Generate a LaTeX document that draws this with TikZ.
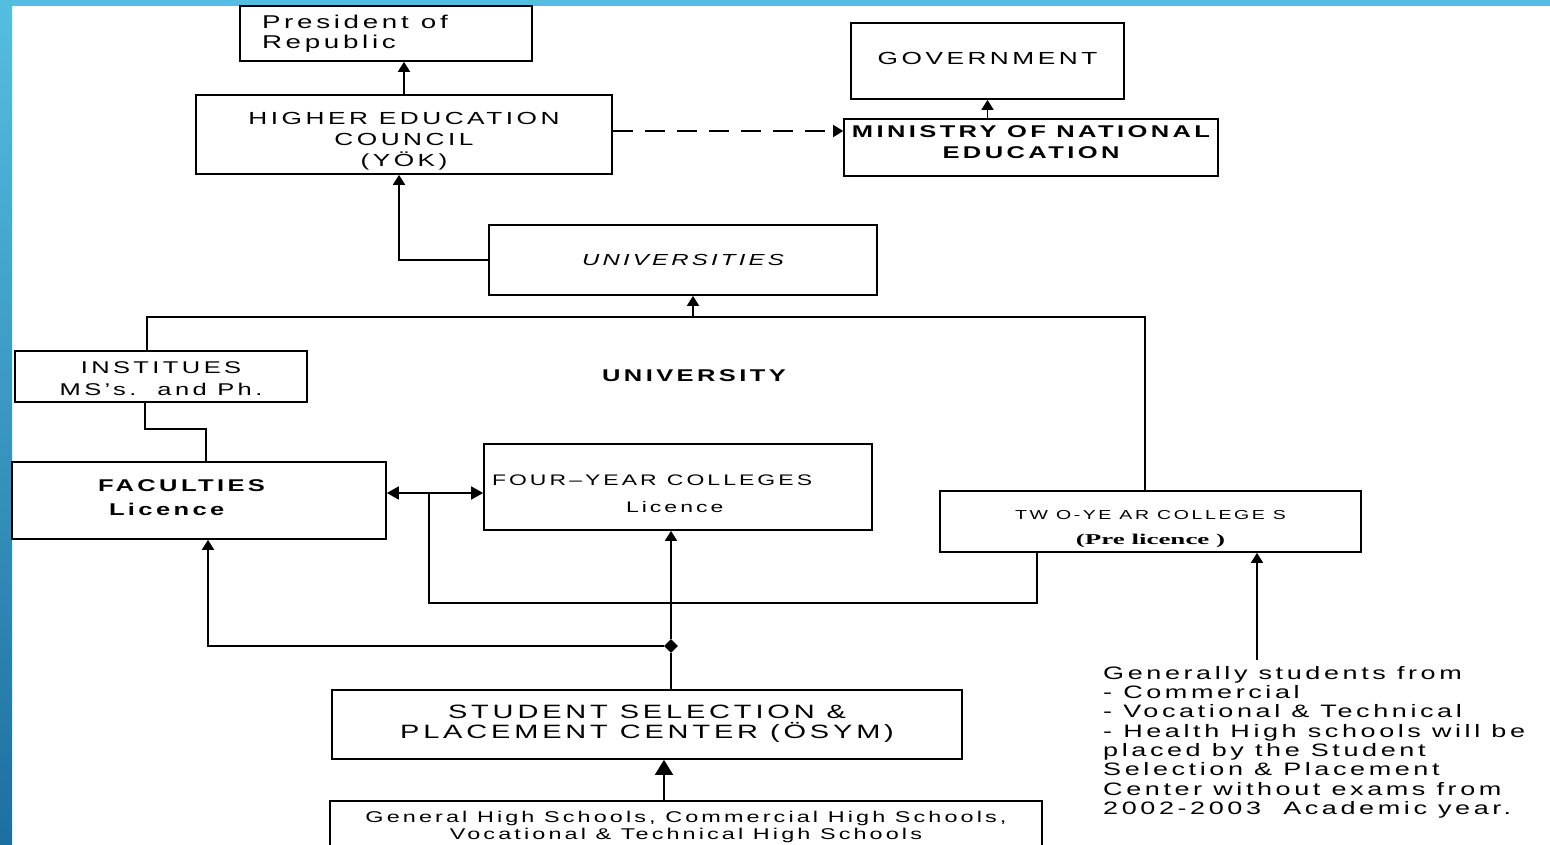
\documentclass[tikz,border=0pt]{standalone}
\usepackage{fontspec}
\usetikzlibrary{arrows.meta,shapes.geometric}
\newfontfamily\diagfont[FakeStretch=1.5,LetterSpace=20]{Liberation Sans}
\newfontfamily\diagserif[FakeStretch=1.8]{Liberation Serif}
\definecolor{frameTop}{HTML}{55BEE0}
\definecolor{frameBot}{HTML}{1D6FA1}
\tikzset{
  box/.style={draw, line width=1.7pt, inner sep=0pt, align=center},
  textdrop/.style={text height=0pt, text depth=#1},
  textlift/.style={text height=#1, text depth=0pt},
  arr/.style={line width=1.7pt, -{Triangle[width=12pt,length=10pt]}},
  bigarr/.style={line width=1.7pt, -{Triangle[width=18pt,length=15pt]}},
  dblarr/.style={line width=1.7pt, {Triangle[width=13pt,length=12pt]}-{Triangle[width=13pt,length=12pt]}},
  dasharr/.style={arr, dash pattern=on 20pt off 12pt},
  junc/.style={diamond, fill=black, inner sep=0pt, minimum size=14pt},
  plain/.style={line width=1.7pt}
}
\begin{document}
\begin{tikzpicture}[x=1pt,y=-1pt]
\useasboundingbox (0,0) rectangle (1550,845);
\clip (0,0) rectangle (1550,845);
\fill[white] (0,0) rectangle (1550,845);
% frame
\shade[top color=frameTop, bottom color=frameBot] (0,0) rectangle (12,845);
\fill[frameTop] (0,0) rectangle (1550,6);

% top level
\node[box, minimum width=292pt, minimum height=55pt, text width=248pt, inner xsep=22pt, align=left, textdrop=10pt,
  font=\diagfont\fontsize{18.5}{20}\selectfont] (pres) at (386,33.5) {President \hspace{6pt}of\\Republic};
\node[box, minimum width=416pt, minimum height=79pt, textlift=64pt, font=\diagfont\fontsize{17.5}{21}\selectfont]
  (hec) at (404,134.5) {HIGHER EDUCATION\\COUNCIL\\(YÖK)};
\node[box, minimum width=273pt, minimum height=76pt, textlift=6.6pt,
  font=\diagfont\fontsize{17.5}{20}\selectfont] (gov) at (987.5,61) {GOVERNMENT};
\node[box, minimum width=374pt, minimum height=57pt, textlift=23pt, font=\diagfont\bfseries\fontsize{17}{21}\selectfont]
  (mne) at (1031,147.5) {MINISTRY OF NATIONAL\\EDUCATION};
\node[box, minimum width=388pt, minimum height=70pt, font=\diagfont\itshape\fontsize{16}{20}\selectfont]
  (unis) at (683,260) {UNIVERSITIES};

% university
\node[font=\diagfont\bfseries\fontsize{17}{20}\selectfont] (uni) at (694,376) {UNIVERSITY};
\node[box, minimum width=292pt, minimum height=51pt, textlift=37pt, font=\diagfont\fontsize{17}{22}\selectfont]
  (inst) at (161,376.5) {INSTITUES\\MS’s.~~and Ph.};
\node[box, minimum width=374pt, minimum height=77pt, text width=202pt, inner xsep=86pt, align=left, textdrop=19pt,
  font=\diagfont\bfseries\fontsize{17}{24}\selectfont] (fac) at (199,500.5) {FACULTIES\\\hspace*{11pt}Licence};
\node[box, minimum width=388pt, minimum height=86pt, text width=372pt, inner xsep=8pt, align=left, textdrop=3pt,
  font=\diagfont\fontsize{15.3}{27}\selectfont] (four) at (678,487) {FOUR–YEAR~~COLLEGES\\\hspace*{134pt}Licence};
\node[box, minimum width=421pt, minimum height=61pt, textlift=45pt, font=\diagfont\fontsize{13}{25}\selectfont]
  (two) at (1150.5,521.5) {TW O-YE AR COLLEGE S\\{\diagserif\bfseries\fontsize{15}{25}\selectfont (Pre licence )}};

% placement
\node[junc] (junc) at (671,646) {};
\node[box, minimum width=630pt, minimum height=69pt, textlift=27pt, font=\diagfont\fontsize{19.3}{20}\selectfont]
  (osym) at (647,724.5) {STUDENT SELECTION \&\\PLACEMENT CENTER (ÖSYM)};
\node[box, minimum width=712pt, minimum height=50pt, textlift=27pt, font=\diagfont\fontsize{15.6}{17}\selectfont]
  (hs) at (686,826) {General High Schools, Commercial High Schools,\\Vocational \& Technical High Schools};
\node[anchor=north west, align=left, inner sep=0pt, font=\diagfont\fontsize{18}{19.3}\selectfont]
  (note) at (1103,666) {Generally students from\\- Commercial\\- Vocational \& Technical\\- Health High schools will be\\placed by the Student\\Selection \& Placement\\Center without exams from\\2002-2003~~Academic year.};
\coordinate (noteTip) at (1257,660);
\coordinate (barR) at (1145,317);
\coordinate (split) at (429,493);

% connectors
\draw[arr] (hec) -- (hec |- pres.south);
\draw[dasharr] ([yshift=3.5pt]hec.east) -- ([yshift=3.5pt]hec.east -| mne.west);
\draw[arr] (gov.south |- mne.north) -- (gov.south);
\draw[arr] (unis.west) -| ([xshift=-5pt]hec.south);
\draw[plain] ([xshift=-14pt]inst.north) |- (barR) -- (barR |- two.north);
\draw[arr] ([xshift=10pt]unis.south |- barR) -- ([xshift=10pt]unis.south);
\draw[plain] ([xshift=-16pt]inst.south) -- ++(0,26) -| ([xshift=7pt]fac.north);
\draw[dblarr] ([yshift=7.5pt]fac.east) -- ([yshift=7.5pt]fac.east -| four.west);
\draw[plain] (split) -- (split |- 0,603) -| ([xshift=-113.5pt]two.south);
\draw[plain] (osym.north -| junc) -- (junc);
\draw[arr] (junc) -- (junc |- four.south);
\draw[arr] (junc) -| ([xshift=9pt]fac.south);
\draw[bigarr] ([xshift=-22pt]hs.north) -- ([xshift=-22pt]hs.north |- osym.south);
\draw[arr] (noteTip) -- (noteTip |- two.south);
\end{tikzpicture}
\end{document}
